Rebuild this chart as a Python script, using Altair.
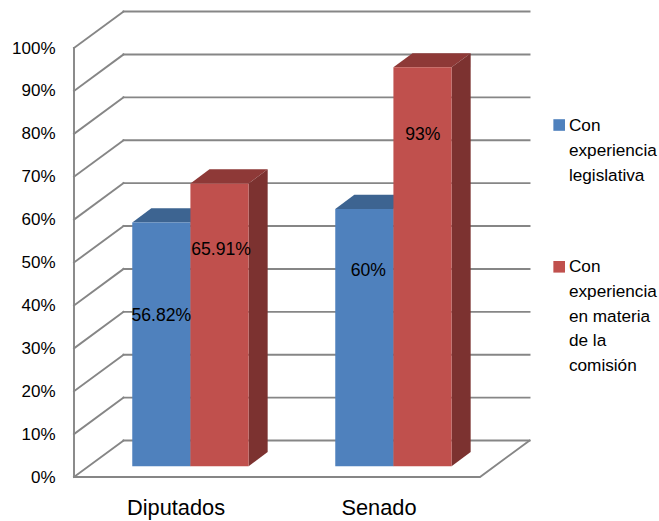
import altair as alt
import pandas as pd

# Chart values
categories = ["Diputados", "Senado"]
series = ["Con experiencia legislativa", "Con experiencia en materia de la comisión"]
legislativa = [56.82, 60]
comision = [65.91, 93]
value_labels = [["56.82%", "60%"], ["65.91%", "93%"]]
pct_ticks = list(range(0, 101, 10))
legend_lines = ["Con\nexperiencia\nlegislativa", "Con\nexperiencia\nen materia\nde la\ncomisión"]

# Label heights on the percent scale, and their small sideways nudges in slots
label_heights = [[37.5, 48.1], [52.9, 79.7]]
label_nudges = [[0.0, 0.02], [0.008, 0.002]]

# Oblique projection used for the 3D look; x is measured in category slots
PX_PER_SLOT = 203
PX_PER_PCT = 4.29
WALL_DX, WALL_DY = 0.244, 8.5        # floor/wall depth
PLANE_DX, PLANE_DY = 0.0735, 2.5     # where the bars stand on the floor
BAR_DX, BAR_DY = 0.094, 3.3          # bar depth
BAR_W = 0.2865
SLOTS = len(categories)
X_MAX = 585 / PX_PER_SLOT
Y_MAX = 466 / PX_PER_PCT

GRID = "#868686"
FRONT = ["#4F81BD", "#C0504D"]
TOP = ["#3D6491", "#8E3937"]
SIDE = ["#35577F", "#7C3230"]

x_scale = alt.Scale(domain=[0, X_MAX], nice=False, zero=False)
y_scale = alt.Scale(domain=[0, Y_MAX], nice=False, zero=False)
x_axis = alt.Axis(
    values=[i + 0.5 for i in range(SLOTS)],
    labelExpr="datum.value < 1 ? '%s' : '%s'" % tuple(categories),
    title=None, domain=False, ticks=False, grid=False, labelFontSize=21.8,
    labelPadding=20, labelFont="Liberation Sans", labelColor="#000000",
)
y_axis = alt.Axis(
    values=pct_ticks, labelExpr="datum.value + '%'",
    title=None, domain=False, ticks=False, grid=False, labelFontSize=17,
    labelPadding=19, labelFont="Liberation Sans", labelColor="#000000",
)


def xq(field):
    return alt.X(field, scale=x_scale, axis=x_axis)


def yq(field):
    return alt.Y(field, scale=y_scale, axis=y_axis)


# Wall and floor frame
frame = []
for p in pct_ticks:
    frame += [
        {"id": f"side{p}", "o": 0, "x": 0, "y": p},
        {"id": f"side{p}", "o": 1, "x": WALL_DX, "y": p + WALL_DY},
        {"id": f"back{p}", "o": 0, "x": WALL_DX, "y": p + WALL_DY},
        {"id": f"back{p}", "o": 1, "x": SLOTS + WALL_DX, "y": p + WALL_DY},
    ]
frame += [
    {"id": "axis", "o": 0, "x": 0, "y": 100},
    {"id": "axis", "o": 1, "x": 0, "y": 0},
    {"id": "axis", "o": 2, "x": SLOTS, "y": 0},
    {"id": "axis", "o": 3, "x": SLOTS + WALL_DX, "y": WALL_DY},
]
frame_layer = alt.Chart(pd.DataFrame(frame)).mark_line(
    color=GRID, strokeWidth=1.9, strokeCap="square", interpolate="linear"
).encode(x=xq("x:Q"), y=yq("y:Q"), detail="id:N", order="o:Q")

# Bar faces
fronts, tops, sides, texts = [], [], [], []
for s, values in enumerate([legislativa, comision]):
    for c, v in enumerate(values):
        left = c + 0.5 - BAR_W + PLANE_DX + s * BAR_W
        right = left + BAR_W
        base = PLANE_DY
        top = v + PLANE_DY
        key = f"{s}-{c}"
        fronts.append({"x": left, "x2": right, "y": base, "y2": top, "fill": FRONT[s], "s": s})
        for k in (0, 1):
            tops.append({"id": key, "s": s, "fill": TOP[s],
                         "y": top + k * BAR_DY,
                         "x": left + k * BAR_DX, "x2": right + k * BAR_DX})
            sides.append({"id": key, "s": s, "fill": SIDE[s],
                          "x": right + k * BAR_DX,
                          "y": base + k * BAR_DY, "y2": top + k * BAR_DY})
        texts.append({"x": (left + right) / 2 + label_nudges[s][c],
                      "y": label_heights[s][c], "t": value_labels[s][c]})


def faces(rows, sid):
    return pd.DataFrame([r for r in rows if r["s"] == sid])


fill = alt.Color("fill:N", scale=None)

layers = [frame_layer]
for sid in (0, 1):
    layers.append(alt.Chart(faces(tops, sid)).mark_area(orient="horizontal").encode(
        x=xq("x:Q"), x2="x2:Q", y=yq("y:Q"), detail="id:N", color=fill))
    layers.append(alt.Chart(faces(sides, sid)).mark_area(orient="vertical").encode(
        x=xq("x:Q"), y=yq("y:Q"), y2="y2:Q", detail="id:N", color=fill))
for sid in (0, 1):
    layers.append(alt.Chart(faces(fronts, sid)).mark_rect().encode(
        x=xq("x:Q"), x2="x2:Q", y=yq("y:Q"), y2="y2:Q", color=fill))

labels = alt.Chart(pd.DataFrame(texts)).mark_text(
    font="Liberation Sans", fontSize=17.6, color="#000000",
    align="center", baseline="middle",
).encode(x=xq("x:Q"), y=yq("y:Q"), text="t:N")
layers.append(labels)

# Legend drawn beside the plot, one swatch per series
legend_rows = pd.DataFrame({
    "name": series,
    "fill": FRONT,
    "text": legend_lines,
    "sx": [2.39, 2.39],
    "sy": [82.05, 49.0],
    "tx": [2.438, 2.438],
    "ty": [80.6, 47.8],
})
swatches = alt.Chart(legend_rows).mark_square(size=135, opacity=1).encode(
    x=xq("sx:Q"), y=yq("sy:Q"), color=fill,
)
legend_text = alt.Chart(legend_rows).mark_text(
    font="Liberation Sans", fontSize=17.2, lineBreak="\n", lineHeight=24.8,
    align="left", baseline="alphabetic", color="#000000",
).encode(x=xq("tx:Q"), y=yq("ty:Q"), text="text:N")
layers += [swatches, legend_text]

chart = alt.layer(*layers).properties(
    width=585,
    height=466,
    padding={"left": 74, "top": 11, "right": 0, "bottom": 44},
    autosize=alt.AutoSizeParams(type="none"),
    background="#ffffff",
).configure_view(stroke=None)

chart.save("out.html", embed_options={"renderer": "svg", "actions": False})
